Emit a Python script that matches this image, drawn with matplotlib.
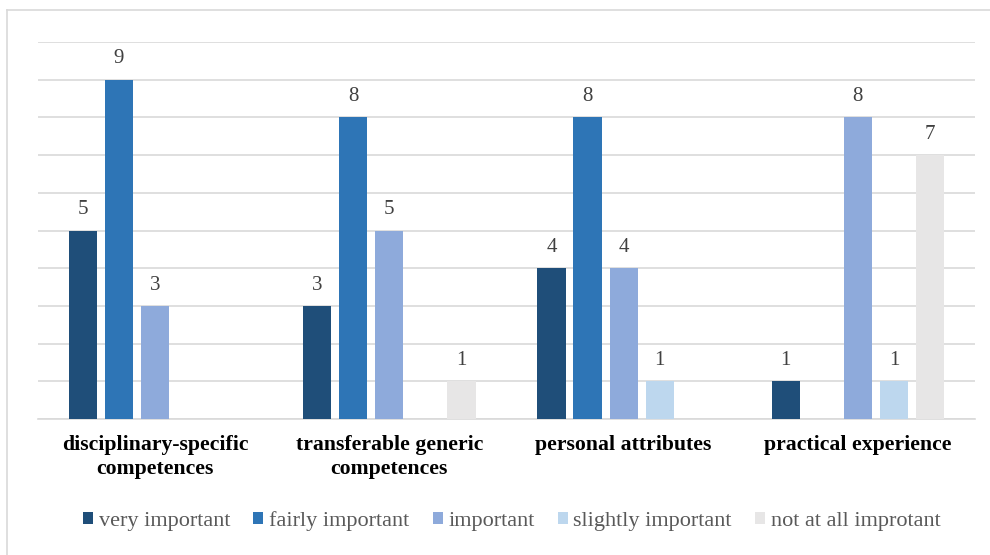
import matplotlib.pyplot as plt
from matplotlib.lines import Line2D
import numpy as np

plt.rcParams['font.family'] = ['Liberation Serif', 'DejaVu Serif']

# data
categories = ['disciplinary-specific\ncompetences', 'transferable generic\ncompetences',
              'personal attributes', 'practical experience']
series = ['very important', 'fairly important', 'important', 'slightly important', 'not at all improtant']
very_important = [5, 3, 4, 1]
fairly_important = [9, 8, 8, 0]
important = [3, 5, 4, 8]
slightly_important = [0, 0, 1, 1]
not_at_all = [0, 1, 0, 7]
values = [very_important, fairly_important, important, slightly_important, not_at_all]
colors = ['#1f4e79', '#2e75b6', '#8eaadb', '#bdd7ee', '#e7e6e6']

fig = plt.figure(figsize=[9.9, 5.55], dpi=100)
ax = fig.add_axes([38/990, 1-419/555, 937/990, 377/555])

x = np.arange(len(categories))
step = 0.154
width = 0.12
for i, (name, vals, c) in enumerate(zip(series, values, colors)):
    pos = x + (i - 2) * step
    bars = ax.bar(pos, vals, width, color=c, label=name, zorder=3)
    for b, v in zip(bars, vals):
        if v > 0:
            ax.text(b.get_x() + b.get_width()/2, v + 0.3, str(v), ha='center', va='bottom',
                    fontsize=15, color='#404040')

ax.set_xlim(-0.5, 3.5)
ax.set_ylim(0, 10)
ax.set_yticks(np.arange(0, 11, 1))
ax.yaxis.grid(True, color='#d9d9d9', linewidth=1.2, zorder=0)
ax.tick_params(axis='y', left=False, labelleft=False)
ax.tick_params(axis='x', bottom=False, pad=8)
ax.set_xticks(x)
ax.set_xticklabels(categories, fontsize=15.7, fontweight='bold', linespacing=1.25)
for s in ['top', 'right', 'left']:
    ax.spines[s].set_visible(False)
ax.spines['bottom'].set_color('#d9d9d9')
ax.spines['bottom'].set_linewidth(1.2)

leg = fig.legend(loc='center', bbox_to_anchor=(0.517, 1-521/555), ncol=5, frameon=False,
                 fontsize=16, handlelength=0.45, handleheight=0.45, handletextpad=0.25,
                 columnspacing=1.05)
for t in leg.get_texts():
    t.set_color('#595959')

# outer border (left and top visible)
fig.add_artist(Line2D([7/990, 7/990], [0, 1-10/555], color='#d9d9d9', linewidth=1.2))
fig.add_artist(Line2D([7/990, 1], [1-10/555, 1-10/555], color='#d9d9d9', linewidth=1.2))

fig.savefig('out.png', dpi=100)
